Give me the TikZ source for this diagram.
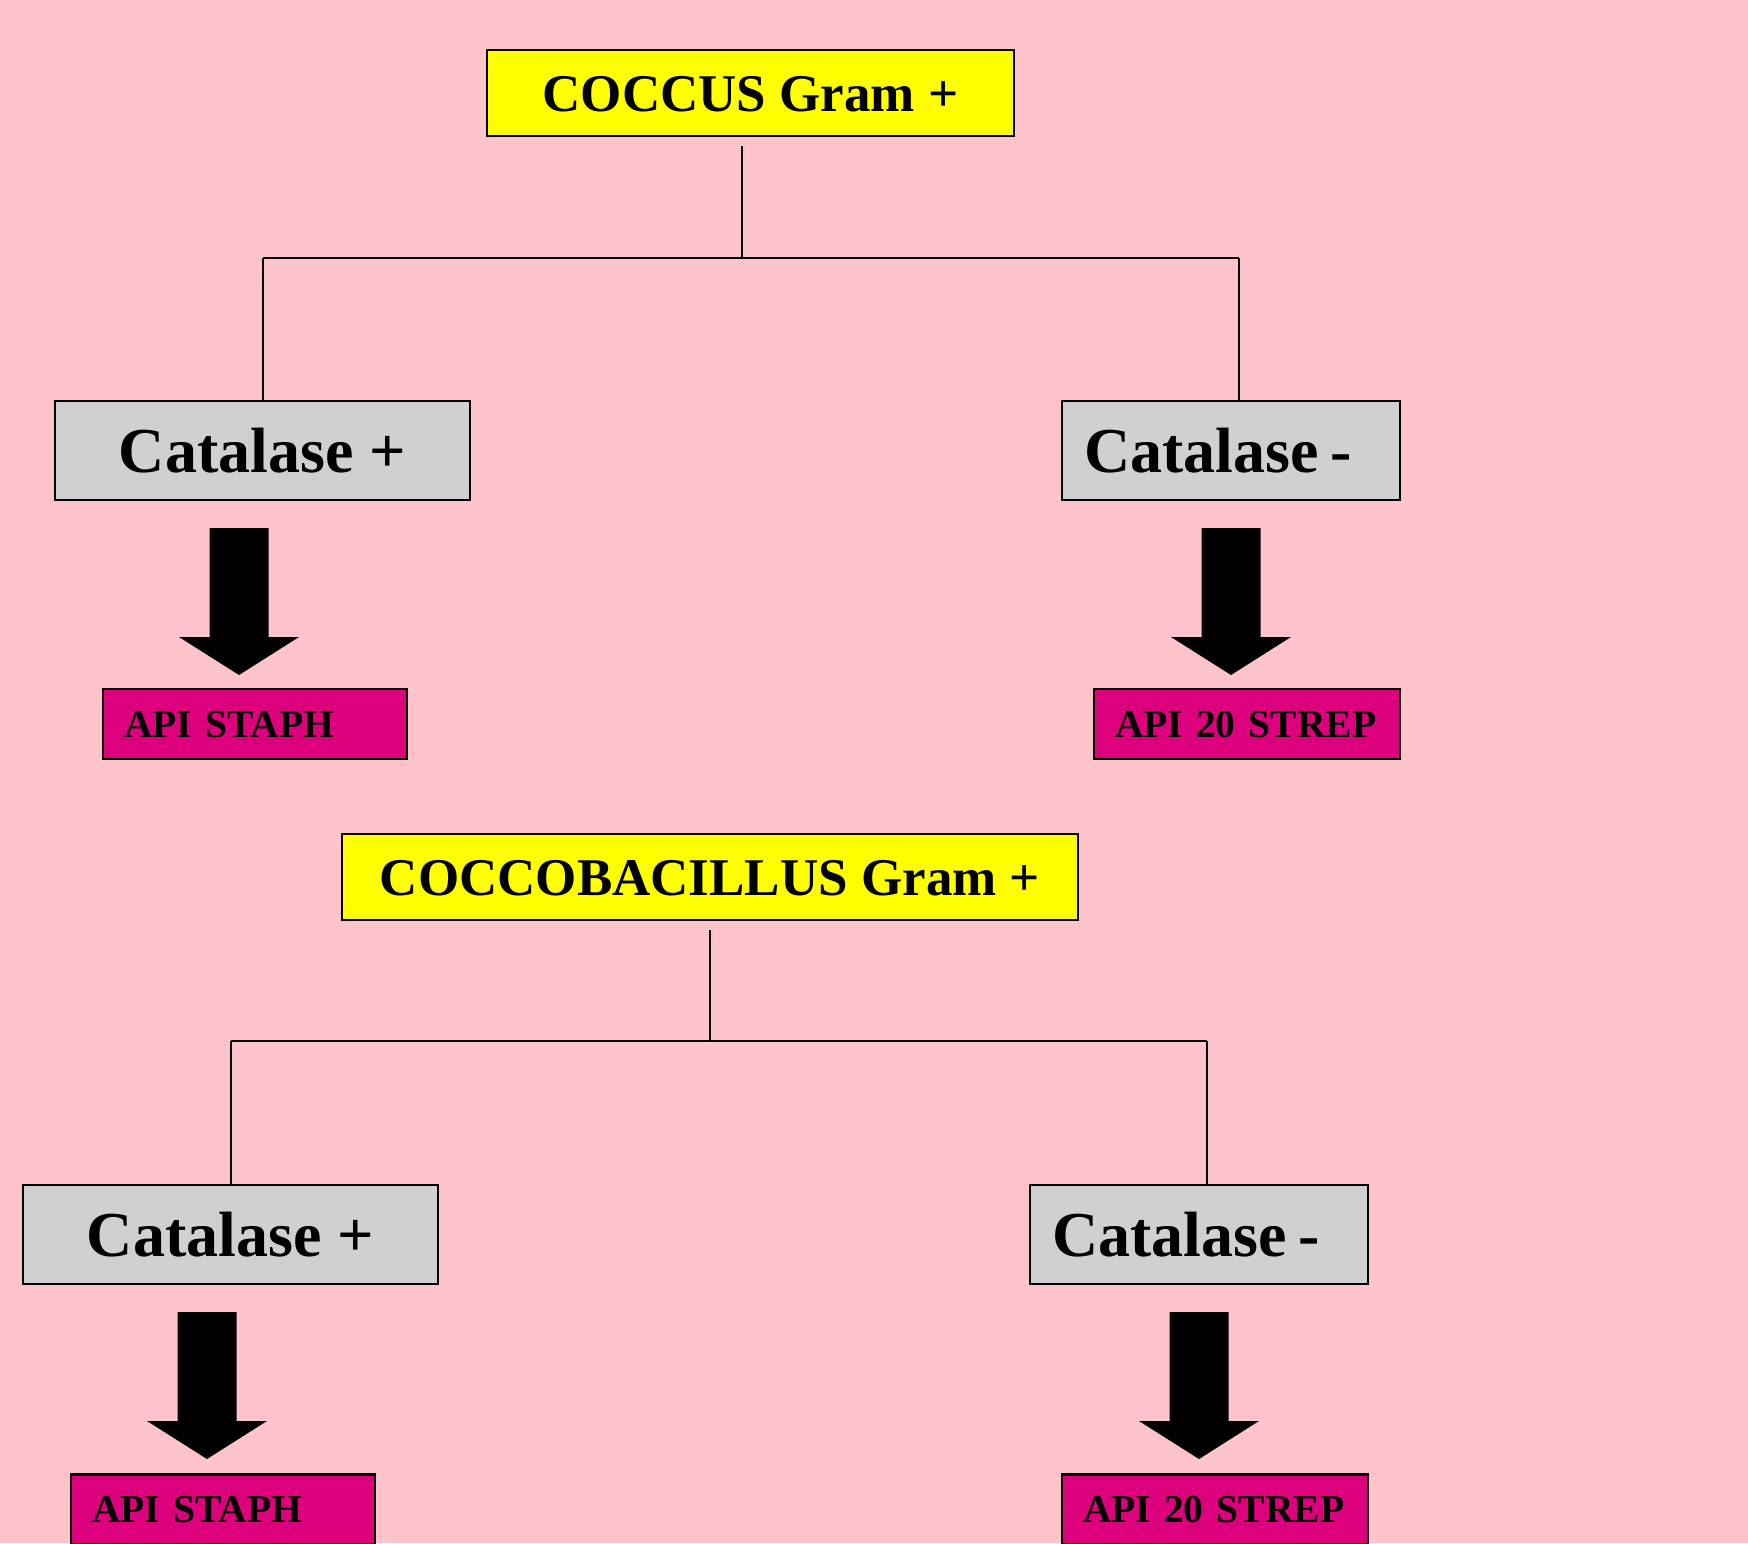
\documentclass[tikz,border=0pt]{standalone}
\usepackage{fontspec}
\setmainfont{Liberation Serif}
\definecolor{bgpink}{RGB}{255,196,203}
\definecolor{boxyellow}{RGB}{255,255,0}
\definecolor{boxgray}{RGB}{208,208,208}
\definecolor{boxmag}{RGB}{220,0,124}
\newcommand\blkarrow[2]{\fill[black] (#1-29.5,#2) -- (#1+29.5,#2) -- (#1+29.5,#2+109) -- (#1+60,#2+109) -- (#1,#2+147) -- (#1-60,#2+109) -- (#1-29.5,#2+109) -- cycle;}
\begin{document}
\begin{tikzpicture}[x=0.5pt,y=-0.5pt,
  box/.style={draw=black, line width=1.2pt, inner sep=0pt, text depth=0pt},
  head/.style={box, fill=boxyellow, font=\fontsize{26.5pt}{30pt}\selectfont\bfseries, text height=18pt, minimum height=43pt},
  cat/.style={box, fill=boxgray, font=\fontsize{32pt}{36pt}\selectfont\bfseries, text height=21.8pt, minimum height=49.5pt},
  api/.style={box, fill=boxmag, font=\fontsize{19.75pt}{23pt}\selectfont\bfseries, text height=13.4pt, minimum height=35pt, inner xsep=10.5pt, align=left},
  conn/.style={draw=black, line width=1pt}]
\fill[bgpink] (0,0) rectangle (1748,1543);
\clip (0,0) rectangle (1748,1543);

% ---------- upper tree ----------
\node[head, minimum width=263.5pt] (t1) at (750.5,93) {COCCUS Gram +};
\node[cat, minimum width=207.5pt] (cp1) at (262.5,450.5) {Catalase +};
\node[cat, text width=147pt, inner xsep=11pt, align=left] (cm1) at (1231,450.5) {Catalase\hspace{0.18em}-};
\node[api, text width=131pt] (as1) at (255,724) {API STAPH};
\node[api, text width=132pt] (ar1) at (1247,724) {API 20 STREP};

\coordinate (s1) at (742,146);
\coordinate (j1) at (742,258);
\coordinate (l1) at (263,258);
\coordinate (r1) at (1239,258);
\draw[conn] (s1) -- (j1);
\draw[conn] (l1) -- (r1);
\draw[conn] (l1) -- (l1 |- cp1.north);
\draw[conn] (r1) -- (r1 |- cm1.north);

\blkarrow{239}{528}
\blkarrow{1231}{528}

% ---------- lower tree ----------
\node[head, minimum width=368pt] (t2) at (710,877) {COCCOBACILLUS Gram +};
\node[cat, minimum width=207.5pt] (cp2) at (230.5,1234.5) {Catalase +};
\node[cat, text width=147pt, inner xsep=11pt, align=left] (cm2) at (1199,1234.5) {Catalase\hspace{0.18em}-};
\node[api, text width=131pt] (as2) at (223,1509.5) {API STAPH};
\node[api, text width=132pt] (ar2) at (1215,1509.5) {API 20 STREP};

\coordinate (s2) at (710,930);
\coordinate (j2) at (710,1041);
\coordinate (l2) at (231,1041);
\coordinate (r2) at (1207,1041);
\draw[conn] (s2) -- (j2);
\draw[conn] (l2) -- (r2);
\draw[conn] (l2) -- (l2 |- cp2.north);
\draw[conn] (r2) -- (r2 |- cm2.north);

\blkarrow{207}{1312}
\blkarrow{1199}{1312}
\end{tikzpicture}
\end{document}
